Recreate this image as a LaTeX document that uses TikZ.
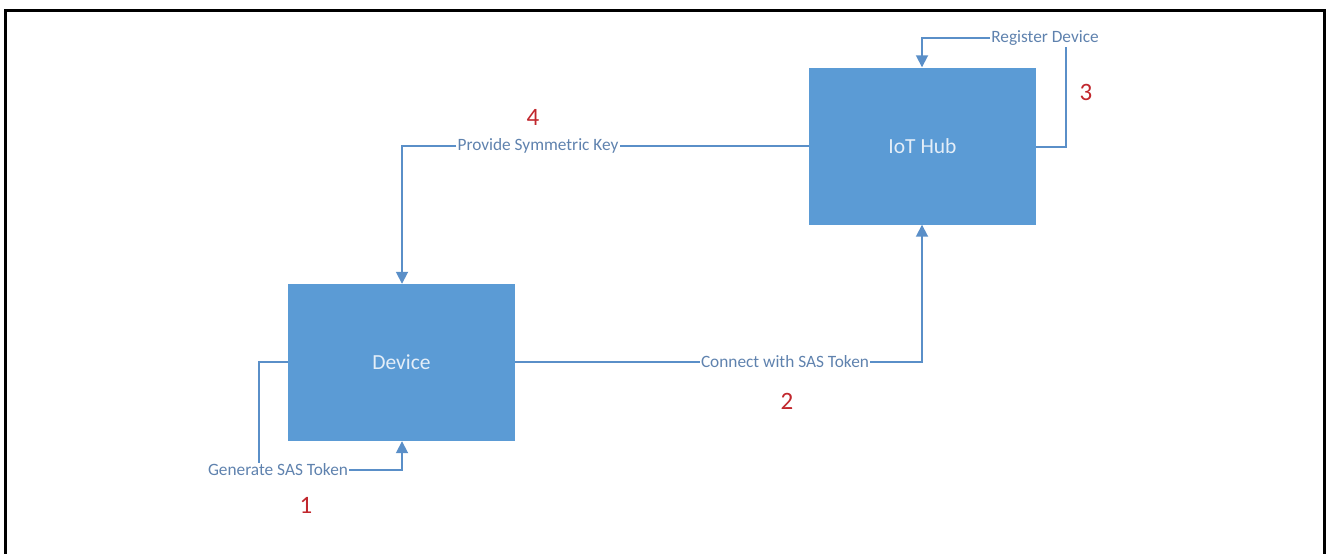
\documentclass[tikz,border=0pt]{standalone}
\usepackage{fontspec}
\setmainfont{Carlito}
\usetikzlibrary{arrows.meta}
\definecolor{boxblue}{HTML}{5B9BD5}
\definecolor{lineblue}{HTML}{5A8FC8}
\definecolor{labelblue}{HTML}{5F82AE}
\definecolor{boxtext}{HTML}{E4EEF8}
\definecolor{numred}{HTML}{C1272D}
\tikzset{
  block/.style={draw=none, fill=boxblue, minimum width=227pt, minimum height=157pt, text=boxtext, font=\fontsize{21.5}{26}\selectfont, inner sep=0pt},
  conn/.style={draw=lineblue, line width=1.8pt},
  arr/.style={conn, -{Triangle[width=12pt,length=12pt]}},
  lbl/.style={text=labelblue, font=\fontsize{17.3}{20}\selectfont, inner sep=1pt},
  num/.style={text=numred, font=\fontsize{25}{30}\selectfont, inner sep=0pt},
}
\begin{document}
\begin{tikzpicture}[x=1pt,y=-1pt]
\useasboundingbox (0,0) rectangle (1326,554);
\draw[line width=3pt] (5,560) -- (5,10) -- (1324.5,10) -- (1324.5,560);

\node[block] (dev) at (401.5,362.5) {Device};
\node[block] (hub) at (922.5,146) {IoT Hub};

% 1: Generate SAS Token
\node[lbl] (l1) at (278,470) {Generate SAS Token};
\coordinate (c1a) at (259,362);
\draw[conn] (dev.west |- c1a) -- (c1a) -- (c1a |- l1.north);
\coordinate (c1b) at (402,470);
\draw[arr] (l1.east) -- (c1b) -- (c1b |- dev.south);
\node[num] (n1) at (306,505) {1};

% 2: Connect with SAS Token
\node[lbl] (l2) at (785,362) {Connect with SAS Token};
\coordinate (c2) at (922,362);
\draw[conn] (dev.east |- l2) -- (l2.west);
\draw[arr] (l2.east) -- (c2) -- (c2 |- hub.south);
\node[num] (n2) at (787,401) {2};

% 3: Register Device
\node[lbl] (l3) at (1045,38) {Register Device};
\coordinate (c3a) at (1066,147);
\coordinate (c3b) at (922,38);
\draw[conn] (hub.east |- c3a) -- (c3a) -- (c3a |- l3.south);
\draw[arr] (l3.west) -- (c3b) -- (c3b |- hub.north);
\node[num] (n3) at (1086,92) {3};

% 4: Provide Symmetric Key
\node[lbl] (l4) at (538,146) {Provide Symmetric Key};
\coordinate (c4) at (402,146);
\draw[conn] (hub.west |- l4) -- (l4.east);
\draw[arr] (l4.west) -- (c4) -- (c4 |- dev.north);
\node[num] (n4) at (533,117) {4};
\end{tikzpicture}
\end{document}
